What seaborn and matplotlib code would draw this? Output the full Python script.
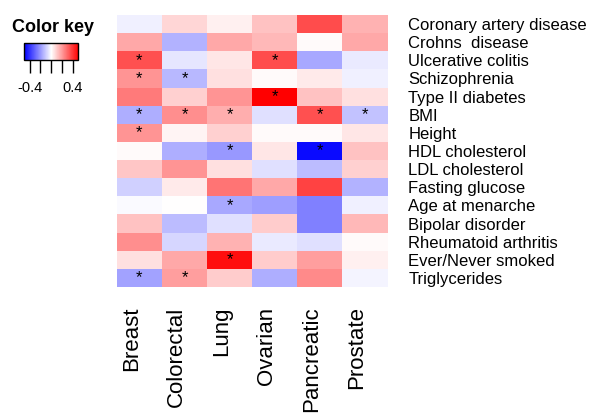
import numpy as np
import pandas as pd
import matplotlib
matplotlib.use("Agg")
import matplotlib.pyplot as plt
import matplotlib.transforms as mtransforms
import seaborn as sns

# Datos
cancers = ["Breast", "Colorectal", "Lung", "Ovarian", "Pancreatic", "Prostate"]
traits = ["Coronary artery disease", "Crohns  disease", "Ulcerative colitis",
          "Schizophrenia", "Type II diabetes", "BMI", "Height", "HDL cholesterol",
          "LDL cholesterol", "Fasting glucose", "Age at menarche", "Bipolar disorder",
          "Rheumatoid arthritis", "Ever/Never smoked", "Triglycerides"]

correlations = [
    [-0.03, 0.08, 0.03, 0.12, 0.35, 0.15],
    [0.17, -0.15, 0.17, 0.14, 0.01, 0.17],
    [0.34, -0.05, 0.05, 0.35, -0.17, -0.04],
    [0.21, -0.14, 0.06, 0.01, 0.04, -0.03],
    [0.26, 0.09, 0.21, 0.50, 0.12, 0.06],
    [-0.16, 0.22, 0.16, -0.06, 0.34, -0.12],
    [0.21, 0.02, 0.09, 0.01, 0.01, 0.05],
    [0.01, -0.16, -0.20, 0.05, -0.48, 0.12],
    [0.11, 0.21, 0.06, -0.06, -0.13, 0.09],
    [-0.09, 0.04, 0.27, 0.17, 0.37, -0.15],
    [-0.01, 0.00, -0.17, -0.19, -0.25, -0.03],
    [0.12, -0.13, -0.06, 0.10, -0.25, 0.14],
    [0.22, -0.08, 0.15, -0.04, -0.06, 0.01],
    [0.06, 0.17, 0.47, 0.10, 0.19, 0.03],
    [-0.18, 0.19, 0.10, -0.16, 0.23, -0.02],
]

# Significativos (*)
significant = [
    ("Ulcerative colitis", "Breast"), ("Ulcerative colitis", "Ovarian"),
    ("Schizophrenia", "Breast"), ("Schizophrenia", "Colorectal"),
    ("Type II diabetes", "Ovarian"),
    ("BMI", "Breast"), ("BMI", "Colorectal"), ("BMI", "Lung"),
    ("BMI", "Pancreatic"), ("BMI", "Prostate"),
    ("Height", "Breast"),
    ("HDL cholesterol", "Lung"), ("HDL cholesterol", "Pancreatic"),
    ("Age at menarche", "Lung"),
    ("Ever/Never smoked", "Lung"),
    ("Triglycerides", "Breast"), ("Triglycerides", "Colorectal"),
]

df = pd.DataFrame(correlations, index=traits, columns=cancers)
stars = pd.DataFrame("", index=traits, columns=cancers)
for t, c in significant:
    stars.loc[t, c] = "*"

plt.rcParams["font.family"] = ["Liberation Sans", "DejaVu Sans"]

fig = plt.figure(figsize=(5.9, 4.16), dpi=100)
ax = fig.add_axes([0.198, 0.310, 0.459, 0.654])
cax = fig.add_axes([0.041, 0.856, 0.092, 0.041])

sns.heatmap(df, cmap="bwr", vmin=-0.5, vmax=0.5, annot=stars, fmt="",
            annot_kws={"fontsize": 12, "color": "black", "va": "center"},
            ax=ax, cbar_ax=cax, cbar_kws={"orientation": "horizontal"})

ax.yaxis.tick_right()
ax.tick_params(axis="y", length=0, labelsize=12, pad=15, labelrotation=0)
ax.tick_params(axis="x", length=0, labelsize=16, pad=14, labelrotation=90)
for lab in ax.get_yticklabels():
    lab.set_ha("left")
shift = mtransforms.ScaledTranslation(-8 / 100, 0, fig.dpi_scale_trans)
for lab in ax.get_xticklabels():
    lab.set_transform(lab.get_transform() + shift)
ax.set_xlabel("")
ax.set_ylabel("")

cbar = ax.collections[0].colorbar
cbar.set_ticks([-0.4, -0.2, 0, 0.2, 0.4])
cbar.set_ticklabels(["-0.4", "", "", "", "0.4"])
cbar.ax.tick_params(length=9, width=1, labelsize=10.5, pad=6)
cbar.outline.set_visible(True)
cbar.outline.set_edgecolor("black")
cbar.outline.set_linewidth(1)
fig.text(0.02, 0.923, "Color key", fontsize=13, fontweight="bold")

fig.savefig("out.png", dpi=100)
